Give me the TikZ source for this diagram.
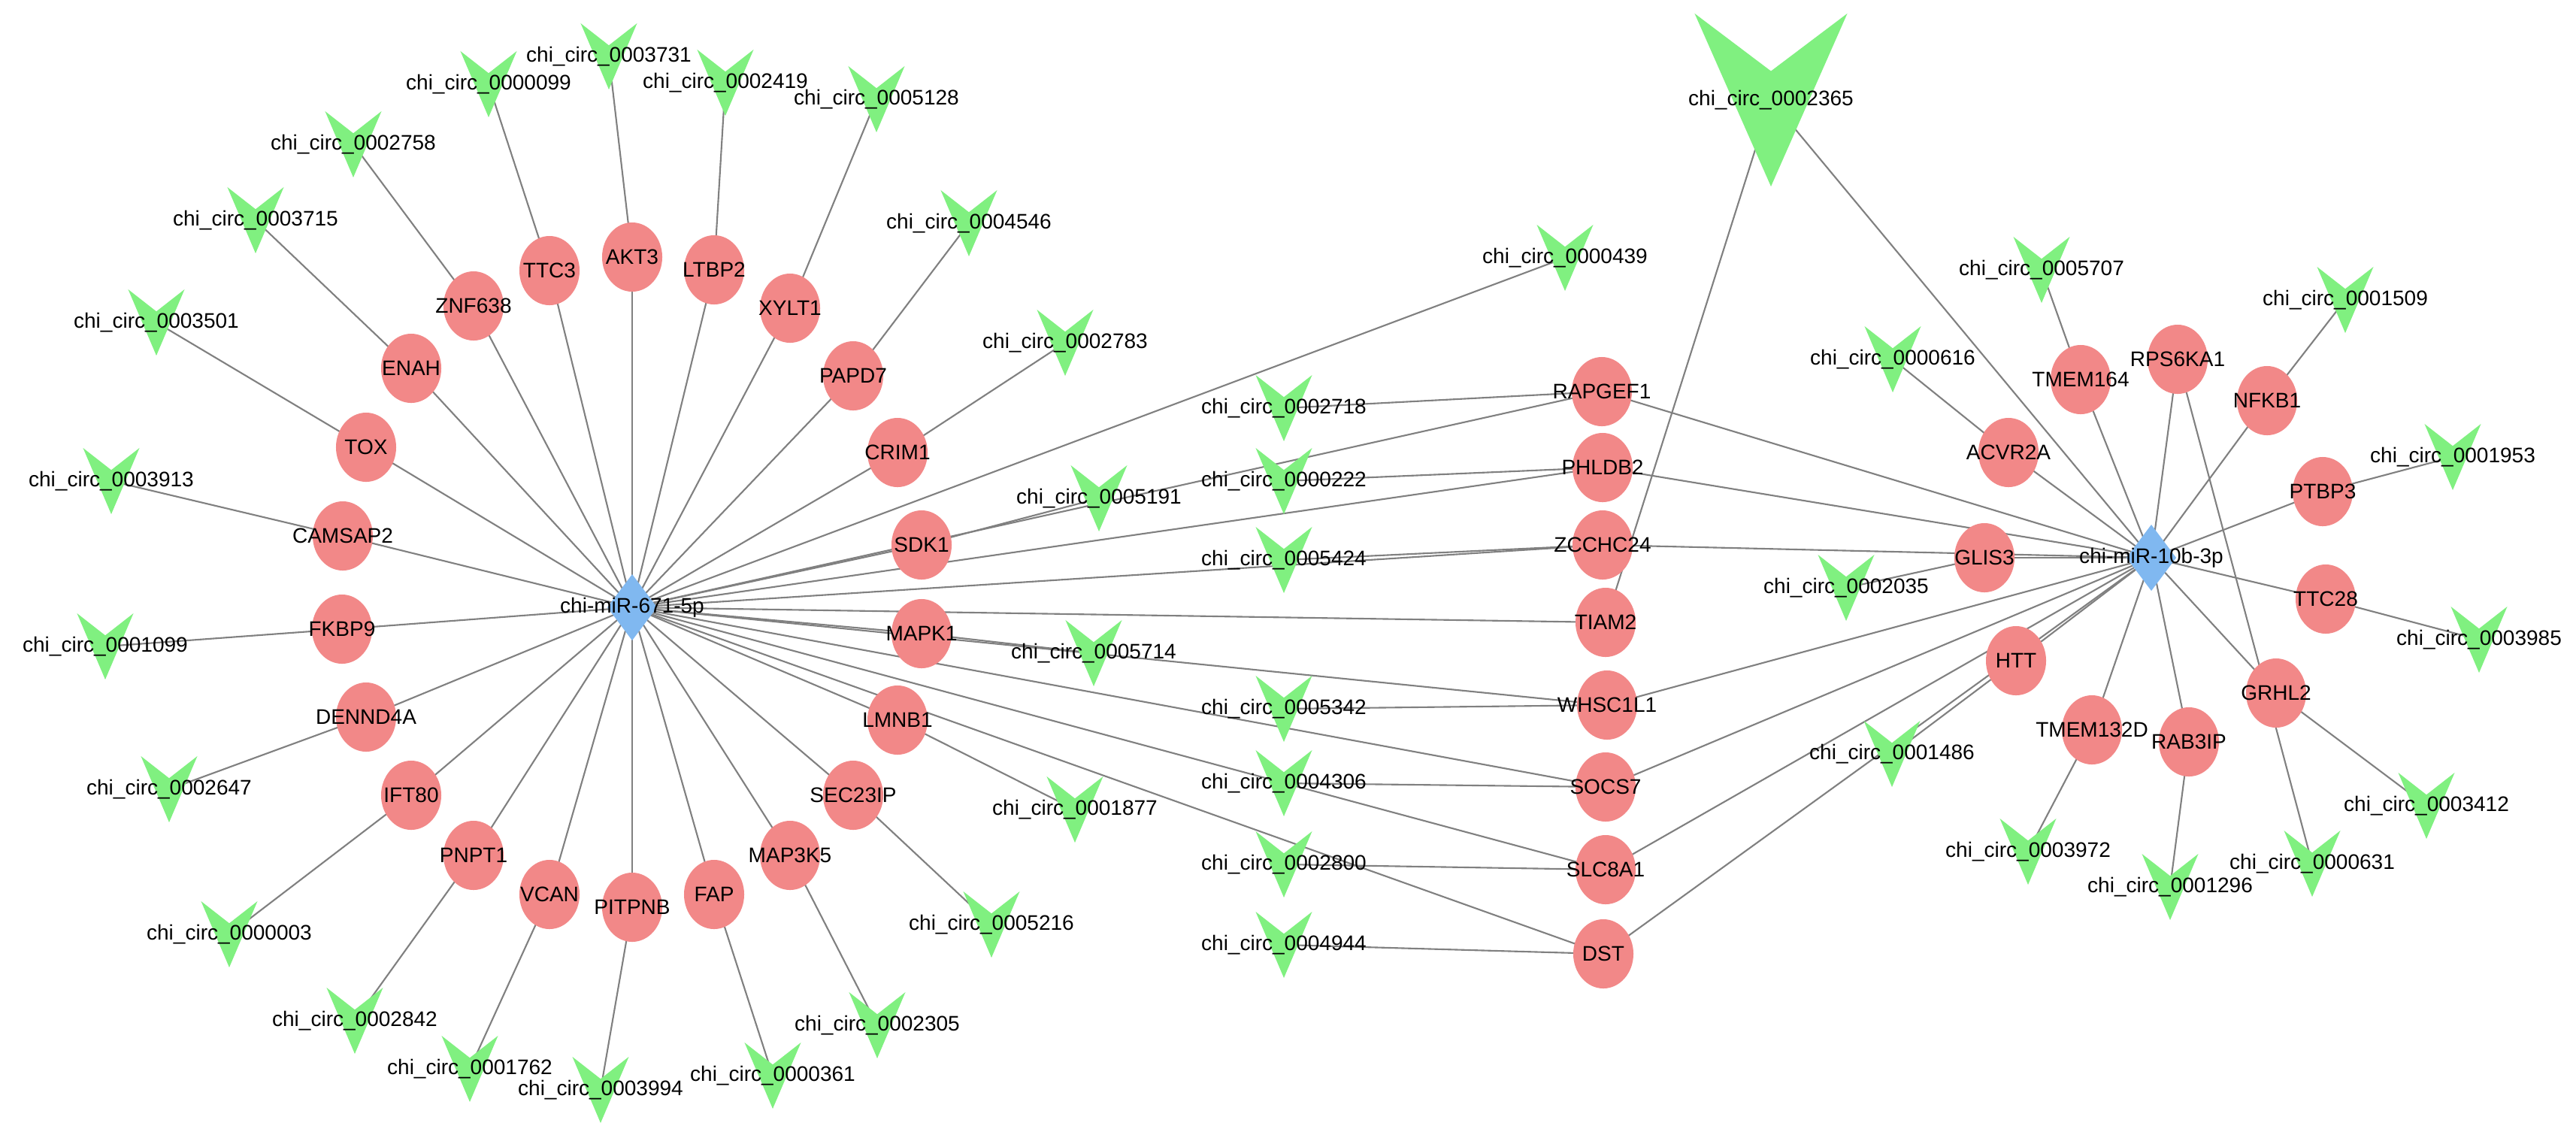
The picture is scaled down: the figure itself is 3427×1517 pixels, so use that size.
\documentclass[tikz,border=0pt]{standalone}
\usepackage{fontspec}
\setmainfont{Liberation Sans}
\usetikzlibrary{backgrounds,calc,shapes.geometric}
\definecolor{vgreen}{RGB}{128,240,128}
\definecolor{genec}{RGB}{242,136,136}
\definecolor{mirc}{RGB}{128,184,240}
\definecolor{edgec}{RGB}{128,128,128}
\begin{document}
\begin{tikzpicture}[x=0.01cm,y=-0.01cm,
 gene/.style={ellipse, fill=genec, minimum width=0.80cm, minimum height=0.92cm, inner sep=0pt},
 circv/.style={rectangle, inner sep=0pt, minimum width=0.75cm, minimum height=0.88cm,
   path picture={\fill[vgreen] (path picture bounding box.north west) -- ($(path picture bounding box.north)!0.333!(path picture bounding box.south)$) -- (path picture bounding box.north east) -- (path picture bounding box.south) -- cycle;}},
 bigv/.style={circv, minimum width=2.03cm, minimum height=2.30cm},
 mir/.style={rectangle, inner sep=0pt, minimum width=0.66cm, minimum height=0.88cm,
   path picture={\fill[mirc] (path picture bounding box.north) -- (path picture bounding box.east) -- (path picture bounding box.south) -- (path picture bounding box.west) -- cycle;}},
 lab/.style={font=\fontsize{7.97}{9}\selectfont, inner sep=0pt, text=black},
 edge/.style={draw=edgec, line width=0.6pt}]
\useasboundingbox (0,0) rectangle (3427,1517);
% hubs
\node[mir] (D671) at (841,808) {};
\node[mir] (D10b) at (2862,742) {};
% left genes
\node[gene] (ENAH) at (547,490) {};
\node[gene] (ZNF638) at (630,407) {};
\node[gene] (TTC3) at (731,360) {};
\node[gene] (AKT3) at (841,342) {};
\node[gene] (LTBP2) at (950,359) {};
\node[gene] (XYLT1) at (1051,410) {};
\node[gene] (PAPD7) at (1135,500) {};
\node[gene] (CRIM1) at (1194,602) {};
\node[gene] (SDK1) at (1226,725) {};
\node[gene] (MAPK1) at (1226,843) {};
\node[gene] (LMNB1) at (1194,958) {};
\node[gene] (SEC23IP) at (1135,1058) {};
\node[gene] (MAP3K5) at (1051,1138) {};
\node[gene] (FAP) at (950,1190) {};
\node[gene] (PITPNB) at (841,1207) {};
\node[gene] (VCAN) at (731,1190) {};
\node[gene] (PNPT1) at (630,1138) {};
\node[gene] (IFT80) at (547,1058) {};
\node[gene] (DENND4A) at (487,954) {};
\node[gene] (FKBP9) at (455,837) {};
\node[gene] (CAMSAP2) at (456,713) {};
\node[gene] (TOX) at (487,595) {};
% middle genes
\node[gene] (RAPGEF1) at (2131,521) {};
\node[gene] (PHLDB2) at (2132,622) {};
\node[gene] (ZCCHC24) at (2132,725) {};
\node[gene] (TIAM2) at (2136,828) {};
\node[gene] (WHSC1L1) at (2138,938) {};
\node[gene] (SOCS7) at (2136,1047) {};
\node[gene] (SLC8A1) at (2136,1157) {};
\node[gene] (DST) at (2133,1269) {};
% right genes
\node[gene] (ACVR2A) at (2672,602) {};
\node[gene] (TMEM164) at (2768,505) {};
\node[gene] (RPS6KA1) at (2897,478) {};
\node[gene] (NFKB1) at (3016,533) {};
\node[gene] (PTBP3) at (3090,654) {};
\node[gene] (TTC28) at (3094,797) {};
\node[gene] (GRHL2) at (3028,922) {};
\node[gene] (RAB3IP) at (2912,987) {};
\node[gene] (TMEM132D) at (2783,971) {};
\node[gene] (HTT) at (2682,879) {};
\node[gene] (GLIS3) at (2640,742) {};
% circs left
\node[circv] (c3731) at (810,75) {};
\node[circv] (c0099) at (650,112) {};
\node[circv] (c2758) at (470,192) {};
\node[circv] (c3715) at (340,293) {};
\node[circv] (c3501) at (208,429) {};
\node[circv] (c3913) at (148,640) {};
\node[circv] (c1099) at (140,860) {};
\node[circv] (c2647) at (225,1050) {};
\node[circv] (c0003) at (305,1243) {};
\node[circv] (c2842) at (472,1358) {};
\node[circv] (c1762) at (625,1422) {};
\node[circv] (c3994) at (799,1450) {};
\node[circv] (c0361) at (1028,1431) {};
\node[circv] (c2305) at (1167,1364) {};
\node[circv] (c5216) at (1319,1230) {};
\node[circv] (c1877) at (1430,1077) {};
\node[circv] (c5714) at (1455,869) {};
\node[circv] (c5191) at (1462,663) {};
\node[circv] (c2783) at (1417,456) {};
\node[circv] (c4546) at (1289,297) {};
\node[circv] (c5128) at (1166,132) {};
\node[circv] (c2419) at (965,110) {};
\node[circv] (c0439) at (2082,343) {};
% circs middle
\node[circv] (c2718) at (1708,543) {};
\node[circv] (c0222) at (1708,640) {};
\node[circv] (c5424) at (1708,745) {};
\node[circv] (c5342) at (1708,943) {};
\node[circv] (c4306) at (1708,1042) {};
\node[circv] (c2800) at (1708,1150) {};
\node[circv] (c4944) at (1708,1257) {};
\node[bigv] (c2365) at (2356,133) {};
% circs right
\node[circv] (c0616) at (2518,478) {};
\node[circv] (c2035) at (2456,782) {};
\node[circv] (c1486) at (2517,1003) {};
\node[circv] (c5707) at (2716,359) {};
\node[circv] (c1509) at (3120,399) {};
\node[circv] (c1953) at (3263,608) {};
\node[circv] (c3985) at (3298,851) {};
\node[circv] (c3412) at (3228,1072) {};
\node[circv] (c0631) at (3076,1149) {};
\node[circv] (c1296) at (2887,1180) {};
\node[circv] (c3972) at (2698,1133) {};
% edges
\begin{pgfonlayer}{background}
\fill[white] (0,0) rectangle (3427,1517);
\foreach \a/\b in {D671/ENAH,D671/ZNF638,D671/TTC3,D671/AKT3,D671/LTBP2,D671/XYLT1,D671/PAPD7,D671/CRIM1,D671/SDK1,D671/MAPK1,D671/LMNB1,D671/SEC23IP,D671/MAP3K5,D671/FAP,D671/PITPNB,D671/VCAN,D671/PNPT1,D671/IFT80,D671/DENND4A,D671/FKBP9,D671/CAMSAP2,D671/TOX,D671/c0439,D671/RAPGEF1,D671/PHLDB2,D671/ZCCHC24,D671/TIAM2,D671/WHSC1L1,D671/SOCS7,D671/SLC8A1,D671/DST,
 ZNF638/c2758,TTC3/c0099,AKT3/c3731,LTBP2/c2419,XYLT1/c5128,PAPD7/c4546,CRIM1/c2783,ENAH/c3715,TOX/c3501,CAMSAP2/c3913,FKBP9/c1099,DENND4A/c2647,IFT80/c0003,PNPT1/c2842,VCAN/c1762,PITPNB/c3994,FAP/c0361,MAP3K5/c2305,SEC23IP/c5216,LMNB1/c1877,SDK1/c5191,MAPK1/c5714,
 D10b/ACVR2A,D10b/TMEM164,D10b/RPS6KA1,D10b/NFKB1,D10b/PTBP3,D10b/TTC28,D10b/GRHL2,D10b/RAB3IP,D10b/TMEM132D,D10b/HTT,D10b/GLIS3,D10b/RAPGEF1,D10b/PHLDB2,D10b/ZCCHC24,D10b/WHSC1L1,D10b/SOCS7,D10b/SLC8A1,D10b/DST,D10b/c2365,
 ACVR2A/c0616,TMEM164/c5707,RPS6KA1/c0631,NFKB1/c1509,PTBP3/c1953,TTC28/c3985,GRHL2/c3412,RAB3IP/c1296,TMEM132D/c3972,HTT/c1486,GLIS3/c2035,
 RAPGEF1/c2718,PHLDB2/c0222,ZCCHC24/c5424,TIAM2/c2365,WHSC1L1/c5342,SOCS7/c4306,SLC8A1/c2800,DST/c4944}
  \draw[edge] (\a.center) -- (\b.center);
\end{pgfonlayer}
% labels
\foreach \g in {ENAH,ZNF638,TTC3,AKT3,LTBP2,XYLT1,PAPD7,CRIM1,SDK1,MAPK1,LMNB1,SEC23IP,MAP3K5,FAP,PITPNB,VCAN,PNPT1,IFT80,DENND4A,FKBP9,CAMSAP2,TOX,RAPGEF1,PHLDB2,ZCCHC24,TIAM2,WHSC1L1,SOCS7,SLC8A1,DST,ACVR2A,TMEM164,RPS6KA1,NFKB1,PTBP3,TTC28,GRHL2,RAB3IP,TMEM132D,HTT,GLIS3}
  \node[lab] at (\g) {\g};
\foreach \n in {3731,0099,2758,3715,3501,3913,1099,2647,0003,2842,1762,3994,0361,2305,5216,1877,5714,5191,2783,4546,5128,2419,0439,2718,0222,5424,5342,4306,2800,4944,2365,0616,2035,1486,5707,1509,1953,3985,3412,0631,1296,3972}
  \node[lab] at (c\n) {chi\_circ\_000\n};
\node[lab] at (D671) {chi-miR-671-5p};
\node[lab] at (D10b) {chi-miR-10b-3p};
\end{tikzpicture}
\end{document}
